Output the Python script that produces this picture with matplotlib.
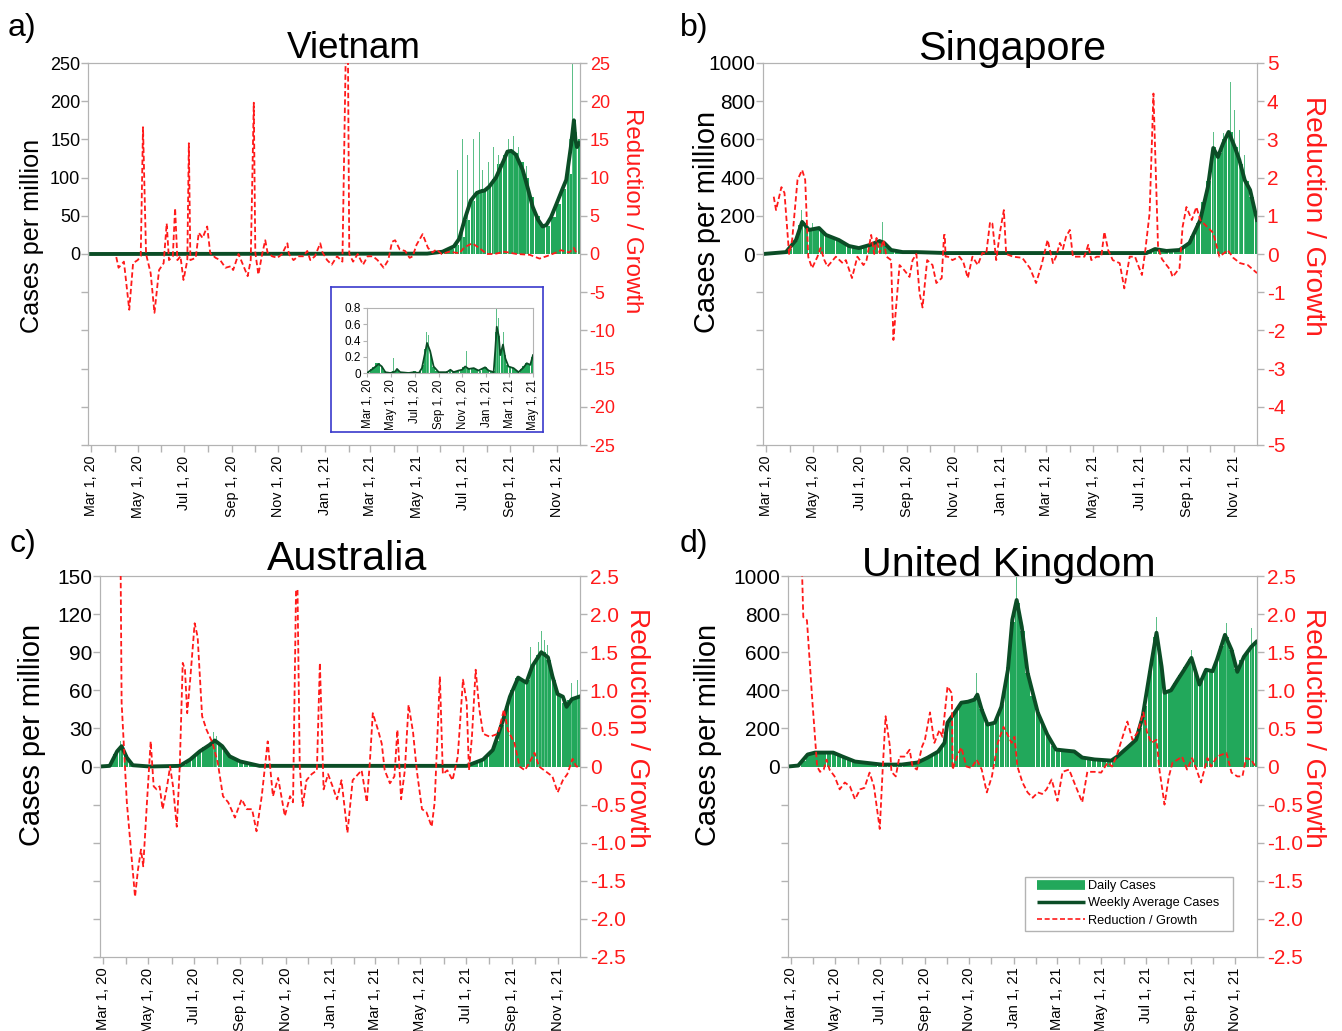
import matplotlib
matplotlib.use('Agg')
import matplotlib.pyplot as plt
from matplotlib.lines import Line2D
from matplotlib.patches import Rectangle
import numpy as np

plt.rcParams['font.family'] = ['Liberation Sans', 'DejaVu Sans']

# ---------------- x axis (days since Mar 1, 2020) ----------------
month_days = [0, 61, 122, 184, 245, 306, 365, 426, 487, 549, 610]
month_labels = ['Mar 1, 20', 'May 1, 20', 'Jul 1, 20', 'Sep 1, 20', 'Nov 1, 20', 'Jan 1, 21',
                'Mar 1, 21', 'May 1, 21', 'Jul 1, 21', 'Sep 1, 21', 'Nov 1, 21']
minor_days = [31, 92, 153, 214, 275, 337, 396, 457, 518, 579]
week_days = list(range(3, 644, 7))      # weekly bar centres (92)

# ---------------- Vietnam ----------------
vn_bars = [0, 0, 0.1, 0.1, 0.1, 0.1, 0, 0, 0, 0,
           0, 0, 0, 0, 0, 0, 0, 0, 0, 0,
           0.1, 0.3, 0.3, 0.2, 0.1, 0, 0, 0, 0, 0,
           0, 0, 0, 0, 0, 0.1, 0.1, 0, 0.1, 0,
           0, 0, 0, 0.1, 0, 0, 0, 0.5, 0.4, 0.3,
           0.2, 0.1, 0.1, 0.1, 0, 0, 0, 0.1, 0.1, 0.1,
           0.2, 0.5, 0.8, 1, 2, 3, 4, 7, 12, 22,
           45, 70, 82, 85, 88, 98, 118, 130, 136, 132,
           120, 100, 75, 50, 38, 36, 48, 65, 85, 105,
           150, 150]
vn_spk_d = [480, 486, 493, 500, 509, 512, 520, 527, 533, 546, 553, 560, 570, 626, 630, 636]
vn_spk_v = [110, 150, 130, 150, 160, 110, 120, 140, 130, 150, 155, 140, 115, 150, 250, 160]
vn_avg_d = [0, 440, 460, 475, 482, 489, 497, 505, 510, 515, 521, 530, 540, 545, 550, 556, 565,
            572, 578, 585, 591, 596, 602, 609, 617, 622, 628, 632, 634, 636, 639]
vn_avg_v = [0, 0.5, 3, 10, 20, 45, 70, 80, 82, 83, 88, 100, 122, 134, 135, 130, 110,
            85, 62, 45, 36, 38, 48, 65, 85, 97, 140, 175, 150, 140, 145]
vn_red_d = [33, 36, 43, 50, 55, 61, 65, 68, 72, 78, 83, 89, 95, 99, 102, 107, 110, 113, 117, 121,
            126, 128, 130, 137, 141, 146, 152, 156, 163, 169, 176, 183, 186, 193, 198, 205, 209,
            213, 215, 219, 224, 228, 231, 237, 244, 250, 257, 259, 265, 271, 278, 283, 287, 293,
            300, 303, 309, 315, 322, 329, 334, 335, 336, 338, 343, 349, 356, 362, 369, 375, 383,
            389, 394, 398, 404, 411, 417, 421, 426, 434, 441, 447, 452, 459, 469, 482, 489, 499,
            508, 518, 528, 541, 557, 574, 587, 596, 609, 615, 626, 632, 635, 639]
vn_red_v = [-0.4, -1.8, -1.0, -7.3, -1.2, -0.8, -0.3, 16.6, 0, -2.5, -7.7, -2.1, -1.2, 4, -0.8,
            -0.3, 6, -0.8, -0.3, -3.4, -0.8, 14.5, -0.8, -0.5, 2.8, 2.1, 3.6, 0.1, -0.5, -0.8,
            -1.8, -1.6, -2.1, 0, -1.2, -2.9, -0.8, 19.8, 0.2, -2.7, 0, 1.8, 0.2, -0.3, -0.5, 0,
            1.4, 0, -0.8, -0.3, -0.3, 0.4, -0.8, -0.3, 1.4, 0.2, -0.8, -1.4, -0.3, -1.0, 30,
            30, 30, 0, -1.0, 0, -1.4, -0.3, -0.3, -0.8, -1.8, -0.8, 1.6, 1.8, 0.6, 0.4, -0.5,
            -0.3, 1.2, 2.6, 0.8, 0.2, 0.6, 0, 0.3, 0.1, 0.9, 1.4, 0.8, 0, 0, 0.3, 0, -0.1, -0.6,
            -0.3, 0.2, 0.5, 0.2, 0.8, 0.2, 0.2]

# Vietnam inset (Mar 2020 - May 2021)
ins_bars = [0.02, 0.05, 0.08, 0.12, 0.12, 0.08, 0.03, 0.01, 0.01, 0.02,
            0.03, 0.04, 0.01, 0.0, 0.0, 0.01, 0.01, 0.02, 0.01, 0.02,
            0.1, 0.3, 0.35, 0.22, 0.07, 0.02, 0.01, 0.01, 0.01, 0.02,
            0.04, 0.02, 0.02, 0.03, 0.04, 0.07, 0.06, 0.05, 0.06, 0.05,
            0.04, 0.03, 0.05, 0.07, 0.04, 0.02, 0.02, 0.5, 0.45, 0.3,
            0.22, 0.1, 0.08, 0.06, 0.04, 0.03, 0.05, 0.09, 0.12, 0.1, 0.2]
ins_spk_d = [21, 68, 74, 152, 158, 256, 332, 338, 346, 351, 406, 423]
ins_spk_v = [0.19, 0.18, 0.25, 0.5, 0.47, 0.27, 0.8, 0.68, 0.56, 0.51, 0.25, 0.47]
ins_avg_d = [0, 17, 30, 38, 47, 60, 73, 77, 85, 107, 120, 133, 141, 150, 154, 162, 171, 184, 205,
             214, 222, 235, 244, 252, 261, 274, 286, 303, 312, 325, 329, 333, 338, 342, 349, 355,
             363, 376, 389, 402, 410, 419, 426]
ins_avg_v = [0, 0.06, 0.11, 0.08, 0.01, 0, 0.02, 0.05, 0.01, 0, 0.01, 0, 0.06, 0.27, 0.37, 0.27,
             0.08, 0.01, 0.01, 0.04, 0.01, 0.03, 0.04, 0.08, 0.05, 0.06, 0.03, 0.07, 0.03, 0.01,
             0.27, 0.57, 0.46, 0.22, 0.35, 0.18, 0.08, 0.06, 0.01, 0.07, 0.12, 0.10, 0.22]
ins_days = [0, 61, 122, 184, 245, 306, 365, 426]
ins_labels = ['Mar 1, 20', 'May 1, 20', 'Jul 1, 20', 'Sep 1, 20', 'Nov 1, 20', 'Jan 1, 21',
              'Mar 1, 21', 'May 1, 21']

# ---------------- Singapore ----------------
sg_bars = [2, 3, 5, 10, 25, 70, 150, 140, 120, 130,
           125, 100, 90, 75, 60, 45, 35, 32, 38, 48,
           62, 65, 45, 18, 12, 10, 7, 6, 5, 5,
           4, 4, 5, 4, 4, 5, 5, 4, 4, 5,
           4, 5, 5, 4, 4, 5, 5, 4, 5, 4,
           5, 4, 4, 5, 4, 4, 5, 5, 4, 4,
           5, 5, 4, 5, 5, 6, 5, 4, 5, 8,
           12, 20, 25, 22, 16, 15, 18, 25, 50, 95,
           160, 270, 380, 560, 530, 600, 640, 560, 470, 380,
           300, 200]
sg_spk_d = [46, 50, 60, 152, 583, 596, 605, 611, 617, 624]
sg_spk_v = [230, 170, 160, 170, 640, 633, 900, 754, 650, 520]
sg_avg_d = [-4, 26, 39, 47, 56, 69, 78, 95, 108, 121, 135, 148, 154, 163, 178, 196, 235, 496, 507,
            522, 539, 552, 566, 576, 583, 589, 596, 603, 611, 617, 624, 631, 640]
sg_avg_v = [0, 10, 73, 168, 126, 136, 100, 73, 42, 31, 47, 68, 58, 21, 10, 10, 5, 5, 26,
            16, 21, 58, 178, 351, 555, 508, 581, 639, 560, 492, 387, 335, 178]
sg_red_d = [10, 13, 20, 24, 30, 34, 41, 47, 51, 55, 60, 67, 71, 76, 80, 91, 100, 104, 112, 119,
            127, 131, 137, 141, 144, 148, 153, 157, 163, 166, 174, 180, 187, 191, 196, 200, 204,
            210, 217, 222, 229, 232, 233, 234, 237, 243, 252, 257, 263, 269, 276, 282, 287, 292,
            295, 300, 305, 310, 313, 322, 334, 344, 352, 359, 367, 374, 378, 383, 387, 391, 396,
            400, 408, 415, 420, 424, 431, 437, 441, 446, 452, 461, 467, 474, 481, 485, 490, 494,
            500, 505, 511, 516, 527, 530, 539, 543, 548, 555, 561, 566, 575, 583, 591, 602, 609,
            618, 628, 640]
sg_red_v = [1.5, 1.15, 1.75, 1.6, 0, 0.37, 1.94, 2.2, 1.94, -0.08, -0.37, -0.07, 0.16, -0.16,
            -0.33, -0.07, -0.24, -0.16, -0.63, -0.07, -0.29, -0.16, 0.5, 0, 0.42, 0.03, 0.37,
            -0.07, -0.16, -2.25, -0.29, -0.42, -0.6, -0.16, 0, -1.02, -1.4, -0.16, -0.29, -0.76,
            -0.63, 0.5, 0.5, -0.07, -0.07, -0.16, -0.07, -0.2, -0.63, -0.07, -0.29, 0.03, 0,
            0.84, 0.8, -0.16, 0.58, 1.15, 0, -0.07, -0.1, -0.37, -0.76, -0.3, 0.37, -0.24, -0.07,
            0.29, 0.13, 0.45, 0.63, -0.07, -0.07, -0.07, 0.24, -0.16, -0.07, -0.07, 0.58, 0.1,
            -0.16, -0.24, -0.9, -0.07, -0.07, -0.29, -0.55, 0.03, 1.07, 4.2, 0.18, -0.13, -0.42,
            -0.6, -0.37, 0.71, 1.23, 0.89, 1.23, 0.89, 0.71, 0.55, -0.07, 0.1, -0.1, -0.24,
            -0.29, -0.5]

# ---------------- Australia ----------------
au_bars = [0.5, 2, 10, 16, 9, 2, 1, 0.5, 0.5, 0.5,
           0.3, 0.3, 0.3, 0.5, 0.5, 1, 4.5, 8, 12, 15,
           17, 21, 17, 12, 8, 5, 3.5, 2, 1, 0.5,
           0.5, 0.5, 0.3, 0.3, 0.3, 0.3, 0.3, 0.5, 0.5, 0.5,
           0.5, 0.3, 0.3, 0.3, 0.3, 0.3, 0.3, 0.5, 0.3, 0.3,
           0.3, 0.3, 0.3, 0.3, 0.3, 0.3, 0.3, 0.3, 0.3, 0.3,
           0.3, 0.3, 0.3, 0.3, 0.3, 0.5, 0.5, 0.5, 1, 1.5,
           2, 3.5, 5, 8, 12, 20, 33, 48, 60, 70,
           68, 68, 80, 88, 90, 84, 68, 56, 50, 52,
           55, 55]
au_spk_d = [24, 148, 152, 574, 584, 588, 592, 597, 628, 637]
au_spk_v = [20, 27, 24, 94, 98, 107, 100, 96, 66, 68]
au_avg_d = [-4, 9, 19, 25, 32, 40, 63, 103, 117, 130, 143, 150, 160, 170, 184, 210, 488, 510, 523,
            536, 546, 557, 568, 576, 588, 597, 603, 610, 617, 622, 629, 639]
au_avg_v = [0, 0.5, 12, 16, 7, 1, 0, 0.5, 5.5, 12, 17, 20.5, 16, 8, 4, 0.5, 0.5, 5.5, 13,
            35, 55, 70, 66, 79, 90, 86, 71, 57, 55, 47, 53, 55]
au_red_d = [23, 25, 32, 39, 43, 47, 51, 54, 59, 64, 68, 72, 76, 80, 86, 90, 94, 99, 103, 107, 110,
            113, 117, 123, 127, 133, 139, 147, 154, 161, 168, 177, 186, 193, 200, 206, 213, 221,
            228, 235, 244, 251, 255, 259, 260, 261, 264, 268, 273, 280, 287, 291, 296, 302, 308,
            314, 320, 328, 335, 347, 354, 358, 362, 369, 374, 378, 385, 391, 395, 400, 405, 410,
            416, 421, 428, 434, 441, 445, 452, 456, 462, 469, 476, 483, 488, 491, 495, 500, 505,
            510, 519, 530, 538, 543, 552, 559, 566, 572, 579, 585, 592, 603, 610, 617, 623, 630,
            635, 639]
au_red_v = [3.5, 0.84, -0.47, -1.26, -1.71, -1.35, -1.09, -1.31, -0.47, 0.33, -0.26, -0.3,
            -0.26, -0.56, -0.26, 0, -0.26, -0.79, 0, 1.36, 1.27, 0.7, 1.14, 1.88, 1.7, 0.66,
            0.48, 0.31, 0.05, -0.39, -0.47, -0.67, -0.43, -0.56, -0.56, -0.85, -0.39, 0.33,
            -0.39, -0.15, -0.65, -0.39, -0.47, 2.32, 2.32, 2.32, 0, -0.52, -0.18, -0.1, -0.05,
            1.36, -0.3, -0.1, -0.26, -0.43, -0.18, -0.87, -0.18, -0.05, -0.47, 0.05, 0.7, 0.48,
            0.3, -0.05, -0.22, -0.13, 0.48, -0.43, -0.05, 0.81, 0.45, -0.05, -0.56, -0.6,
            -0.79, -0.47, 1.18, -0.1, -0.05, -0.18, 0.13, 1.14, 0.84, -0.05, 0.39, 1.27, 0.75,
            0.43, 0.39, 0.43, 0.75, 0.48, 0.31, 0, -0.05, 0.05, 0.18, 0, -0.05, -0.13, -0.34,
            -0.18, -0.1, 0.1, 0, 0]

# ---------------- United Kingdom ----------------
uk_bars = [2, 6, 30, 62, 72, 73, 73, 73, 70, 60,
           50, 38, 28, 22, 18, 16, 14, 11, 10, 10,
           10, 10, 12, 15, 19, 28, 40, 58, 72, 95,
           180, 260, 295, 330, 340, 345, 370, 300, 225, 225,
           260, 330, 480, 760, 860, 710, 490, 370, 285, 220,
           160, 110, 88, 85, 82, 80, 62, 46, 40, 37,
           35, 33, 31, 40, 60, 85, 110, 135, 200, 320,
           500, 680, 580, 390, 400, 440, 480, 520, 565, 490,
           450, 505, 500, 550, 630, 680, 610, 510, 560, 600,
           630, 655]
uk_spk_d = [255, 296, 310, 502, 550, 598, 633]
uk_spk_v = [492, 523, 995, 785, 613, 754, 728]
uk_avg_d = [-4, 10, 23, 33, 47, 58, 71, 88, 111, 125, 152, 174, 188, 202, 211, 215, 225, 234, 243,
            252, 256, 262, 270, 280, 289, 298, 304, 310, 317, 325, 339, 352, 364, 376, 389, 400,
            417, 440, 448, 462, 474, 483, 495, 502, 509, 513, 522, 531, 540, 550, 561, 570, 579,
            585, 596, 605, 613, 622, 632, 639]
uk_avg_v = [0, 5, 63, 73, 73, 73, 52, 26, 16, 10, 10, 21, 47, 78, 125, 230, 283, 335, 340,
            351, 377, 298, 220, 230, 314, 508, 770, 874, 733, 492, 283, 168, 89, 84, 79, 47,
            37, 31, 52, 99, 141, 262, 544, 702, 524, 387, 400, 455, 508, 570, 430, 508, 500,
            560, 691, 613, 497, 576, 628, 654]
uk_red_d = [14, 17, 22, 29, 36, 40, 45, 49, 53, 60, 67, 74, 81, 88, 95, 101, 108, 114, 122, 126,
            130, 136, 138, 144, 149, 156, 163, 167, 173, 180, 184, 191, 197, 204, 208, 215, 221,
            222, 228, 234, 241, 248, 255, 262, 269, 276, 284, 292, 299, 303, 307, 311, 318, 325,
            332, 339, 345, 351, 358, 366, 373, 382, 389, 400, 407, 417, 426, 435, 441, 448, 462,
            469, 476, 484, 489, 495, 502, 506, 513, 519, 524, 531, 537, 544, 551, 557, 563, 572,
            577, 585, 598, 605, 613, 620, 625, 632, 638]
uk_red_v = [3.0, 1.96, 1.92, 0.92, 0, -0.07, -0.04, 0.09, -0.04, -0.13, -0.3, -0.21, -0.26,
            -0.43, -0.3, -0.28, -0.08, -0.26, -0.82, -0.04, 0.66, 0.26, -0.07, -0.13, 0.13,
            0.13, 0.22, 0, -0.04, 0.26, 0.35, 0.71, 0.31, 0.48, 0.39, 1.05, 0.96, -0.04, 0.13,
            0.25, 0, -0.02, 0.09, -0.04, -0.34, -0.13, 0.31, 0.52, 0.39, 0.31, 0.39, 0, -0.21,
            -0.34, -0.41, -0.34, -0.36, -0.3, -0.17, -0.45, -0.07, -0.04, -0.21, -0.47, -0.07,
            -0.07, -0.08, 0.05, 0, 0.16, 0.59, 0.35, 0.45, 0.71, 0.45, 0.31, 0.35, -0.04, -0.5,
            -0.13, 0.05, 0.09, 0.13, -0.04, 0.11, -0.04, -0.21, 0.11, 0, 0.13, 0.18, -0.08,
            -0.13, -0.13, 0.11, 0.09, 0]

# ---------------- styling ----------------
BAR = '#22a85b'
SPK = '#5cbf88'
AVG = '#0b4d26'
RED = '#ff1a1a'
GRAY = '#b3b3b3'
W, H = 1342, 1031

fig = plt.figure(figsize=(W / 100, H / 100), dpi=100)


def frac(l, t, r, b):
    return [l / W, 1 - b / H, (r - l) / W, (b - t) / H]


def draw_panel(rect, bars, spk_d, spk_v, avg_d, avg_v, red_d, red_v,
               ymax, ystep, rmax, rstep, rlabels, tfs, xfs):
    ax = fig.add_axes(frac(*rect))
    ax.bar(week_days, bars, width=6.2, color=BAR, linewidth=0, zorder=2)
    ax.bar(spk_d, spk_v, width=1.4, color=SPK, linewidth=0, zorder=2.5)
    ax.plot(avg_d, avg_v, color=AVG, lw=2.8, zorder=3, solid_joinstyle='round')
    ax.set_xlim(-4, 640)
    ax.set_ylim(-ymax, ymax)
    yt = np.arange(-ymax, ymax + ystep / 2, ystep)
    ax.set_yticks(yt)
    ax.set_yticklabels([f'{int(round(v))}' if v >= 0 else '' for v in yt], fontsize=tfs)
    ax.set_xticks(month_days)
    ax.set_xticklabels(month_labels, rotation=90, fontsize=xfs)
    ax.set_xticks(minor_days, minor=True)
    for s in ax.spines.values():
        s.set_color(GRAY)
    ax.tick_params(axis='both', which='both', color=GRAY, length=5, width=1)
    ax.tick_params(axis='y', pad=0.5)
    ax.tick_params(axis='x', pad=2.5)
    tw = ax.twinx()
    tw.plot(red_d, red_v, color=RED, lw=1.3, linestyle=(0, (3, 1.6)), zorder=4)
    tw.set_ylim(-rmax, rmax)
    rt = np.arange(-rmax, rmax + rstep / 2, rstep)
    tw.set_yticks(rt)
    tw.set_yticklabels(rlabels, fontsize=tfs, color=RED)
    tw.tick_params(axis='y', color=GRAY, length=5, width=1, pad=2)
    for s in tw.spines.values():
        s.set_color(GRAY)
    return ax, tw


int_labels_25 = [str(v) for v in range(-25, 26, 5)]
int_labels_5 = [str(v) for v in range(-5, 6)]
dec_labels = ['-2.5', '-2.0', '-1.5', '-1.0', '-0.5', '0', '0.5', '1.0', '1.5', '2.0', '2.5']

ax_a, tw_a = draw_panel((88, 63, 580, 445), vn_bars, vn_spk_d, vn_spk_v, vn_avg_d, vn_avg_v,
                        vn_red_d, vn_red_v, 250, 50, 25, 5, int_labels_25, 13, 10.3)
ax_b, tw_b = draw_panel((763, 63, 1257, 445), sg_bars, sg_spk_d, sg_spk_v, sg_avg_d, sg_avg_v,
                        sg_red_d, sg_red_v, 1000, 200, 5, 1, int_labels_5, 15, 10.3)
ax_c, tw_c = draw_panel((100, 576, 580, 957), au_bars, au_spk_d, au_spk_v, au_avg_d, au_avg_v,
                        au_red_d, au_red_v, 150, 30, 2.5, 0.5, dec_labels, 15, 10.6)
ax_d, tw_d = draw_panel((788, 576, 1257, 957), uk_bars, uk_spk_d, uk_spk_v, uk_avg_d, uk_avg_v,
                        uk_red_d, uk_red_v, 1000, 200, 2.5, 0.5, dec_labels, 15, 10.6)

# ---------------- inset (Vietnam early period) ----------------
box = fig.add_axes(frac(331, 287, 543, 432), zorder=5)
box.set_xticks([])
box.set_yticks([])
for s in box.spines.values():
    s.set_color('#3a3acc')
    s.set_linewidth(1.2)
ins = fig.add_axes(frac(367, 308, 533, 373), zorder=6)
ins.bar(week_days[:61], ins_bars, width=6.2, color=BAR, linewidth=0, zorder=2)
ins.bar(ins_spk_d, ins_spk_v, width=1.5, color=SPK, linewidth=0, zorder=2.5)
ins.plot(ins_avg_d, ins_avg_v, color=AVG, lw=1.3, zorder=3)
ins.set_xlim(0, 426)
ins.set_ylim(0, 0.8)
ins.set_yticks([0, 0.2, 0.4, 0.6, 0.8])
ins.set_yticklabels(['0', '0.2', '0.4', '0.6', '0.8'], fontsize=8.5)
ins.set_xticks(ins_days)
ins.set_xticklabels(ins_labels, rotation=90, fontsize=8.3)
for s in ins.spines.values():
    s.set_color(GRAY)
ins.tick_params(axis='both', color=GRAY, length=3, pad=1.5)

# ---------------- legend ----------------
frame = Rectangle((1025 / W, 1 - 931 / H), 208 / W, 54 / H, transform=fig.transFigure,
                  facecolor='white', edgecolor=GRAY, linewidth=1, zorder=4)
fig.patches.append(frame)
handles = [Line2D([], [], color=BAR, lw=7, solid_capstyle='butt'),
           Line2D([], [], color=AVG, lw=2.5, solid_capstyle='butt'),
           Line2D([], [], color=RED, lw=1.2, linestyle=(0, (3, 1.6)))]
leg = fig.legend(handles, ['Daily Cases', 'Weekly Average Cases', 'Reduction / Growth'],
                 loc='upper left', bbox_to_anchor=(1037 / W, 1 - 880 / H),
                 bbox_transform=fig.transFigure, fontsize=9.2, frameon=False,
                 handlelength=3.75, handletextpad=0.22, borderpad=0, labelspacing=0.42,
                 borderaxespad=0)
leg.set_zorder(5)

# ---------------- texts ----------------
def ftext(x, y, s, **kw):
    fig.text(x / W, 1 - y / H, s, **kw)


ftext(354, 58, 'Vietnam', fontsize=26.5, ha='center', va='baseline')
ftext(1012, 60, 'Singapore', fontsize=29.7, ha='center', va='baseline')
ftext(347, 570, 'Australia', fontsize=29.7, ha='center', va='baseline')
ftext(1009, 576, 'United Kingdom', fontsize=29.7, ha='center', va='baseline')

ftext(8, 36, 'a)', fontsize=23, ha='left', va='baseline')
ftext(680, 36, 'b)', fontsize=23, ha='left', va='baseline')
ftext(10, 552, 'c)', fontsize=23, ha='left', va='baseline')
ftext(680, 552, 'd)', fontsize=23, ha='left', va='baseline')

ftext(32, 236, 'Cases per million', fontsize=18.2, rotation=90, ha='center', va='center')
ftext(707, 222, 'Cases per million', fontsize=20.9, rotation=90, ha='center', va='center')
ftext(32, 735, 'Cases per million', fontsize=20.9, rotation=90, ha='center', va='center')
ftext(708, 735, 'Cases per million', fontsize=20.9, rotation=90, ha='center', va='center')

ftext(632, 211, 'Reduction / Growth', fontsize=17.3, rotation=270, ha='center', va='center', color=RED)
ftext(1313, 216, 'Reduction / Growth', fontsize=20.2, rotation=270, ha='center', va='center', color=RED)
ftext(637, 728, 'Reduction / Growth', fontsize=20.2, rotation=270, ha='center', va='center', color=RED)
ftext(1313, 728, 'Reduction / Growth', fontsize=20.2, rotation=270, ha='center', va='center', color=RED)

fig.savefig('out.png', dpi=100)
